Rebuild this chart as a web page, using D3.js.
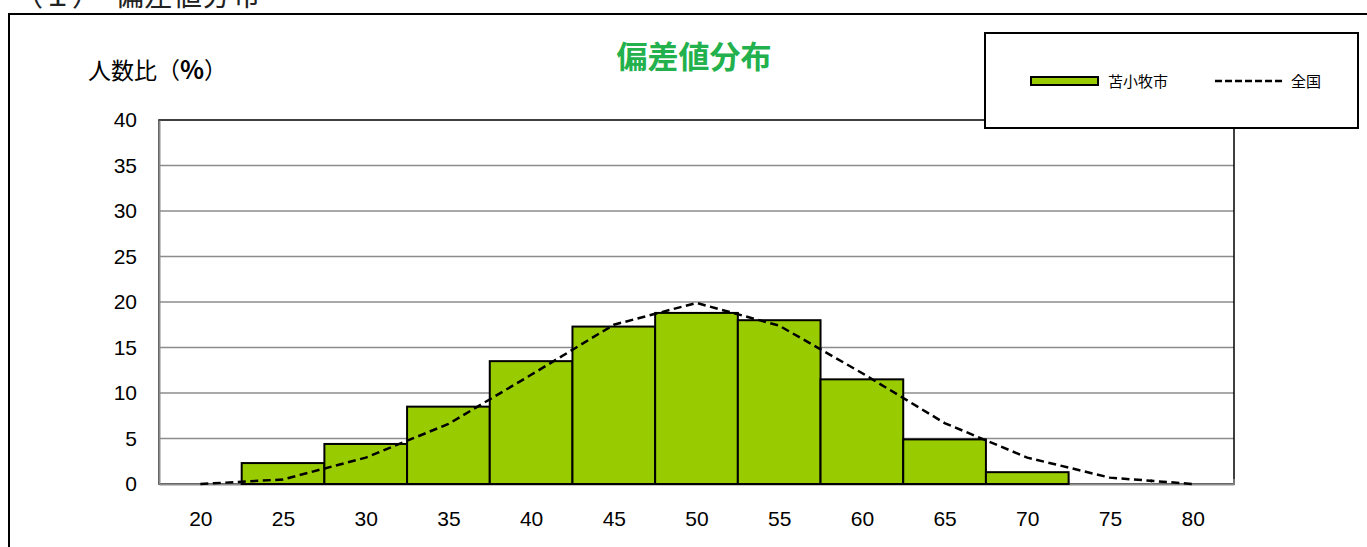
<!DOCTYPE html>
<html>
<head>
<meta charset="utf-8">
<script src="https://cdn.jsdelivr.net/npm/d3@7"></script>
<style>
  html, body { margin: 0; padding: 0; background: #fff; overflow: hidden; }
  svg { display: block; }
</style>
</head>
<body>
<svg id="chart" width="1367" height="547"></svg>
<script>
// ---- data ----
const xTickLabels = [20, 25, 30, 35, 40, 45, 50, 55, 60, 65, 70, 75, 80];
const yTickLabels = [0, 5, 10, 15, 20, 25, 30, 35, 40];
// 苫小牧市 histogram: bin centers and values (%)
const binCenters = [25, 30, 35, 40, 45, 50, 55, 60, 65, 70];
const localValues = [2.3, 4.4, 8.5, 13.5, 17.3, 18.8, 18.0, 11.5, 4.9, 1.3];
// 全国 distribution
const nationalX = [20, 25, 30, 35, 40, 45, 50, 55, 60, 65, 70, 75, 80];
const nationalValues = [0.0, 0.5, 2.9, 6.6, 12.0, 17.5, 19.9, 17.4, 12.2, 6.7, 2.9, 0.7, 0.0];
const binWidth = 5;

const svg = d3.select("#chart");
const plot = { left: 159, right: 1234, top: 120, bottom: 484 };
const jpFont = "'Noto Sans CJK JP', 'Noto Sans', sans-serif";
const numFont = "'Liberation Sans', Arial, sans-serif";

const x = d3.scaleLinear().domain([17.5, 82.5]).range([plot.left, plot.right]);
const y = d3.scaleLinear().domain([0, 40]).range([plot.bottom, plot.top]);

// page header (cut off at top, as in the reference)
svg.append("text").attr("x", 14).attr("y", 6)
  .attr("font-family", jpFont).attr("font-size", 29).attr("fill", "#222")
  .text("（１）");
svg.append("text").attr("x", 115).attr("y", 6)
  .attr("font-family", jpFont).attr("font-size", 29).attr("fill", "#222")
  .text("偏差値分布");

// outer frame
svg.append("rect").attr("x", 9).attr("y", 14).attr("width", 1400).attr("height", 600)
  .attr("fill", "none").attr("stroke", "#000").attr("stroke-width", 2);

// gridlines
svg.append("g").selectAll("line").data(yTickLabels.filter(v => v > 0 && v < 40)).join("line")
  .attr("x1", plot.left).attr("x2", plot.right)
  .attr("y1", d => y(d)).attr("y2", d => y(d))
  .attr("stroke", "#8c8c8c").attr("stroke-width", 1.5);

// plot border
svg.append("rect").attr("x", plot.left).attr("y", plot.top)
  .attr("width", plot.right - plot.left).attr("height", plot.bottom - plot.top)
  .attr("fill", "none").attr("stroke", "#000").attr("stroke-width", 1.5);

// axes (gray lines left & bottom)
const yAxis = d3.axisLeft(y).tickValues(yTickLabels).tickSize(0).tickPadding(22);
const gy = svg.append("g").attr("transform", `translate(${plot.left},0)`).call(yAxis);
gy.select(".domain").attr("stroke", "#8c8c8c").attr("stroke-width", 2);
gy.selectAll("text").attr("font-family", numFont).attr("font-size", 21).attr("fill", "#000");

const xAxis = d3.axisBottom(x).tickValues(xTickLabels).tickSize(0).tickPadding(27).tickFormat(d3.format("d"));
const gx = svg.append("g").attr("transform", `translate(0,${plot.bottom})`).call(xAxis);
gx.select(".domain").attr("stroke", "#8c8c8c").attr("stroke-width", 2);
gx.selectAll("text").attr("font-family", numFont).attr("font-size", 21).attr("fill", "#000");

// inner tick marks at category boundaries
const boundaries = d3.range(xTickLabels.length + 1).map(i => xTickLabels[0] - 2.5 + i * 5);
svg.append("g").selectAll("line").data(boundaries.slice(1)).join("line")
  .attr("x1", d => x(d)).attr("x2", d => x(d))
  .attr("y1", plot.bottom).attr("y2", plot.bottom - 5)
  .attr("stroke", "#8c8c8c").attr("stroke-width", 1.5);

// bars
svg.append("g").selectAll("rect").data(binCenters.map((c, i) => ({ c, v: localValues[i] }))).join("rect")
  .attr("x", d => x(d.c - binWidth / 2))
  .attr("width", d => x(d.c + binWidth / 2) - x(d.c - binWidth / 2))
  .attr("y", d => y(d.v))
  .attr("height", d => y(0) - y(d.v))
  .attr("fill", "#99CC00").attr("stroke", "#000").attr("stroke-width", 2);

// national line
const line = d3.line().x(d => x(d[0])).y(d => y(d[1]));
svg.append("path").datum(nationalX.map((v, i) => [v, nationalValues[i]]))
  .attr("d", line).attr("fill", "none").attr("stroke", "#000")
  .attr("stroke-width", 2.5).attr("stroke-dasharray", "8,4.5");

// title
svg.append("text").attr("x", 694).attr("y", 68).attr("text-anchor", "middle")
  .attr("font-family", jpFont).attr("font-size", 31).attr("font-weight", "bold")
  .attr("fill", "#22B14C").text("偏差値分布");

// y-axis label
const yl = svg.append("text").attr("x", 88).attr("y", 79)
  .attr("font-family", jpFont).attr("font-size", 23).attr("fill", "#000");
yl.append("tspan").text("人数比（");
yl.append("tspan").attr("font-weight", "bold").attr("font-size", 25).text("%");
yl.append("tspan").text("）");

// legend
const lg = svg.append("g");
lg.append("rect").attr("x", 985).attr("y", 33).attr("width", 373).attr("height", 95)
  .attr("fill", "#fff").attr("stroke", "#000").attr("stroke-width", 2);
lg.append("rect").attr("x", 1031).attr("y", 77).attr("width", 67).attr("height", 8)
  .attr("fill", "#99CC00").attr("stroke", "#000").attr("stroke-width", 2);
lg.append("text").attr("x", 1108).attr("y", 87)
  .attr("font-family", jpFont).attr("font-size", 15).attr("fill", "#000").text("苫小牧市");
lg.append("line").attr("x1", 1215).attr("x2", 1282).attr("y1", 81).attr("y2", 81)
  .attr("stroke", "#000").attr("stroke-width", 2.5).attr("stroke-dasharray", "7,3");
lg.append("text").attr("x", 1291).attr("y", 87)
  .attr("font-family", jpFont).attr("font-size", 15).attr("fill", "#000").text("全国");
</script>
</body>
</html>
